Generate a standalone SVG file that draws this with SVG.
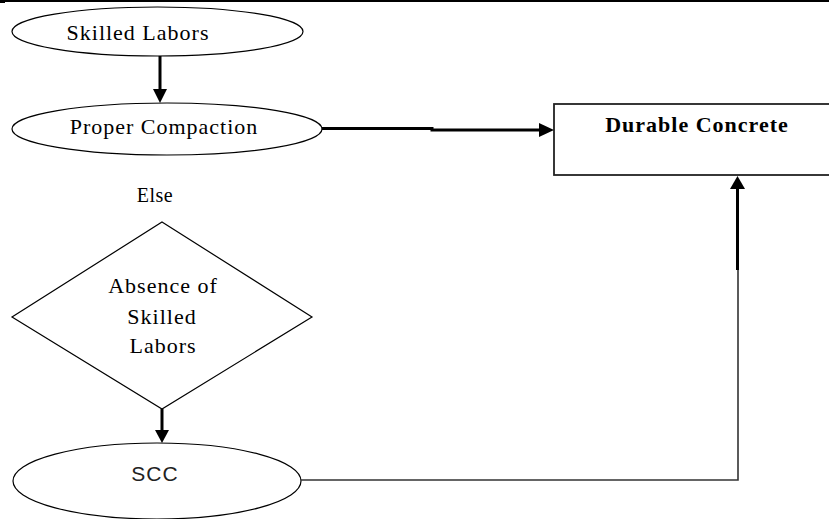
<svg xmlns="http://www.w3.org/2000/svg" width="829" height="519" viewBox="0 0 829 519">
<style>
.shape{fill:#fff;stroke:#000;stroke-width:1.2}
.box{fill:#fff;stroke:#222;stroke-width:1.8}
.t{font-family:"Liberation Serif","Times New Roman",serif;font-size:22px;letter-spacing:1px;text-anchor:middle;fill:#000}
.b{font-weight:bold}
.s{font-family:"Liberation Sans",Arial,sans-serif;font-size:21px;letter-spacing:1px;text-anchor:middle;fill:#222}
.thick{stroke:#000;stroke-width:3;fill:none}
.thin{stroke:#333;stroke-width:1.6;fill:none}
.head{fill:#000;stroke:none}
</style>
<rect width="829" height="519" fill="#fff"/>
<rect x="0" y="0" width="829" height="2" fill="#000"/>
<rect x="0" y="2" width="5" height="1" fill="#000"/>
<g id="node-skilled-labors">
<ellipse class="shape" cx="157.5" cy="31.5" rx="145.5" ry="24.5"/>
<text class="t" x="138" y="40">Skilled Labors</text>
</g>
<g id="node-proper-compaction">
<ellipse class="shape" cx="167" cy="129" rx="155" ry="26"/>
<text class="t" x="164" y="134">Proper Compaction</text>
</g>
<g id="node-durable-concrete">
<rect class="box" x="554" y="104" width="285" height="71"/>
<text class="t b" x="697" y="132">Durable Concrete</text>
</g>
<g id="label-else">
<text class="t" x="155" y="202" style="font-size:20px;letter-spacing:0.5px">Else</text>
</g>
<g id="node-absence">
<polygon class="shape" points="162,222 312,317 162,409 12,317"/>
<text class="t" x="163" y="293">Absence of</text>
<text class="t" x="162" y="324">Skilled</text>
<text class="t" x="163" y="353">Labors</text>
</g>
<g id="node-scc">
<ellipse class="shape" cx="157" cy="481" rx="144" ry="38"/>
<text class="s" x="155" y="481">SCC</text>
</g>
<g id="connectors">
<line class="thick" x1="160" y1="56" x2="160" y2="90"/>
<polygon class="head" points="153,89 167,89 160,103"/>
<polyline class="thick" points="322,128.5 432,128.5 432,130 540,130"/>
<polygon class="head" points="539,123 539,137 554,130"/>
<line class="thick" x1="162" y1="409" x2="162" y2="431"/>
<polygon class="head" points="155,430 169,430 162,443"/>
<polyline class="thin" points="301,480 738,480 738,270"/>
<line class="thick" x1="737.5" y1="270" x2="737.5" y2="187"/>
<polygon class="head" points="730,189 745,189 737.5,176"/>
</g>
</svg>
